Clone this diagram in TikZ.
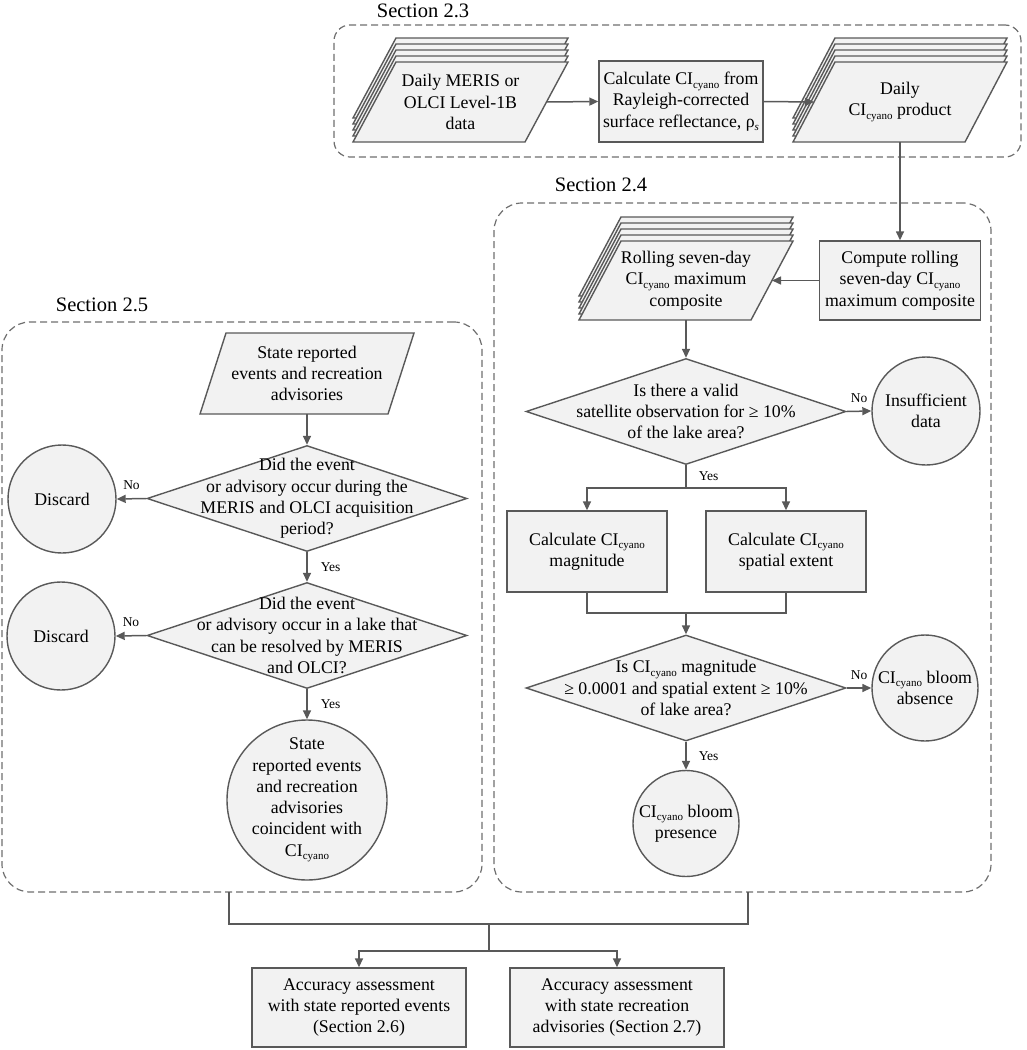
\documentclass[tikz,border=0pt]{standalone}
\usepackage{fontspec}
\setmainfont{Liberation Serif}
\usetikzlibrary{arrows.meta,shapes.geometric,calc,positioning}
\pgfdeclarelayer{bg}
\pgfsetlayers{bg,main}
\definecolor{ln}{HTML}{595959}
\definecolor{fl}{HTML}{F2F2F2}
\definecolor{dsh}{HTML}{6E6E6E}
\newcommand{\cya}{\raisebox{-3.5pt}{\fontsize{11}{11}\selectfont cyano}}
\newcommand{\rhos}{ρ\raisebox{-3.5pt}{\fontsize{11}{11}\selectfont\itshape s}}
\newcommand{\pgsheet}[3]{%
  \draw[draw=ln, fill=fl, line width=1.4pt, line join=miter]
    ($(#1.north west)+(#2/2,-#3)$) -- ($(#1.north east)+(#2/2,-#3)$) --
    ($(#1.south east)+(-#2/2,-#3)$) -- ($(#1.south west)+(-#2/2,-#3)$) -- cycle;}
\begin{document}
\begin{tikzpicture}[x=1pt,y=-1pt,
  txt/.style={font=\fontsize{17.8}{21.3}\selectfont, align=center, text=black},
  box/.style={txt, draw=ln, fill=fl, line width=1.4pt, inner sep=0pt},
  dia/.style={diamond, draw=ln, fill=fl, line width=1.4pt, inner sep=0pt, minimum width=320pt, minimum height=106pt},
  circ/.style={circle, draw=ln, fill=fl, line width=1.4pt, inner sep=0pt},
  para/.style={txt, inner sep=0pt, outer sep=0pt},
  ctext/.style={txt, inner sep=0pt},
  sec/.style={draw=dsh, line width=1.2pt, dash pattern=on 7pt off 4pt, rounded corners=#1, inner sep=0pt, outer sep=0pt},
  seclab/.style={font=\fontsize{20.5}{24}\selectfont, anchor=base},
  conn/.style={draw=ln, line width=1.5pt},
  arr/.style={conn, -{Triangle[length=9pt,width=8pt]}},
  lab/.style={font=\fontsize{13.5}{16}\selectfont, inner sep=0pt},
]
\useasboundingbox (0,0) rectangle (1026,1050);

% section frames
\node[sec=16pt, minimum width=687pt, minimum height=132pt] (s23) at (677.5,91) {};
\node[sec=28pt, minimum width=497pt, minimum height=689pt] (s24) at (742.5,547.5) {};
\node[sec=28pt, minimum width=480pt, minimum height=570pt] (s25) at (242,607) {};
\node[seclab] (l23) at (423,17) {Section 2.3};
\node[seclab] (l24) at (601,191) {Section 2.4};
\node[seclab] (l25) at (102,311) {Section 2.5};

% Section 2.3
\node[para, minimum width=172pt, minimum height=80pt] (st1) at (460.5,102) {Daily MERIS or\\OLCI Level-1B\\data};
\node[box, minimum width=164pt, minimum height=81pt] (calc) at (681,101.5) {Calculate CI\cya{} from\\Rayleigh-corrected\\surface reflectance, \rhos};
\node[para, minimum width=172pt, minimum height=80pt] (st2) at (900,102) {Daily\\CI\cya{} product};

% Section 2.4
\node[box, minimum width=161pt, minimum height=79pt] (comp) at (900,280.5) {Compute rolling\\seven-day CI\cya\\maximum composite};
\node[para, minimum width=172pt, minimum height=79pt] (st3) at (686,280.5) {Rolling seven-day\\CI\cya{} maximum\\composite};
\node[dia, label={[ctext]center:{Is there a valid\\satellite observation for ≥ 10\%\\of the lake area?}}] (d1) at (686,411.5) {};
\node[circ, minimum size=108pt, label={[ctext]center:{Insufficient\\data}}] (ins) at (926,411) {};
\node[box, minimum width=160pt, minimum height=81pt] (mag) at (587,551.5) {Calculate CI\cya\\magnitude};
\node[box, minimum width=160pt, minimum height=81pt] (ext) at (786,551.5) {Calculate CI\cya\\spatial extent};
\node[dia, label={[ctext]center:{Is CI\cya{} magnitude\\≥ 0.0001 and spatial extent ≥ 10\%\\of lake area?}}] (d2) at (686,688) {};
\node[circ, minimum size=106pt, label={[ctext]center:{CI\cya{} bloom\\absence}}] (abs) at (925,688) {};
\node[circ, minimum size=106pt, label={[ctext]center:{CI\cya{} bloom\\presence}}] (pres) at (686,823.5) {};

% Section 2.5
\node[para, minimum width=188pt, minimum height=81pt] (sr) at (307,373.5) {State reported\\events and recreation\\advisories};
\node[dia, label={[ctext]center:{Did the event\\or advisory occur during the\\MERIS and OLCI acquisition\\period?}}] (d3) at (307,498.5) {};
\node[circ, minimum size=108pt, label={[ctext]center:{Discard}}] (dis1) at (62,499) {};
\node[dia, label={[ctext]center:{Did the event\\or advisory occur in a lake that\\can be resolved by MERIS\\and OLCI?}}] (d4) at (307,635.5) {};
\node[circ, minimum size=108pt, label={[ctext]center:{Discard}}] (dis2) at (61,636) {};
\node[circ, minimum size=160pt, label={[ctext]center:{State\\reported events\\and recreation\\advisories\\coincident with\\CI\cya}}] (big) at (307,800) {};

% bottom
\node[box, minimum width=214pt, minimum height=79pt] (acc1) at (359,1007.5) {Accuracy assessment\\with state reported events\\(Section 2.6)};
\node[box, minimum width=214pt, minimum height=79pt] (acc2) at (617,1007.5) {Accuracy assessment\\with state recreation\\advisories (Section 2.7)};

% parallelogram sheets
\begin{pgfonlayer}{bg}
  \foreach \k in {4,3,2,1} {\pgsheet{st1}{43}{6*\k}}
  \pgsheet{st1}{43}{0}
  \foreach \k in {4,3,2,1} {\pgsheet{st2}{42}{6*\k}}
  \pgsheet{st2}{42}{0}
  \foreach \k in {4,3,2,1} {\pgsheet{st3}{42}{6*\k}}
  \pgsheet{st3}{42}{0}
  \pgsheet{sr}{26}{0}
\end{pgfonlayer}

% connectors top / right
\draw[arr] (st1.east) -- (calc.west);
\draw[arr] (calc.east) -- (st2.west);
\draw[arr] (st2.south) -- (comp.north);
\draw[arr] (comp.west) -- (st3.east);
\draw[arr] (st3.south) -- (d1.north);
\draw[arr] (d1.east) -- node[lab, above=8pt]{No} (ins.west);
\coordinate (b1) at (686,488);
\draw[conn] (d1.south) -- node[lab, right=12pt]{Yes} (b1);
\draw[arr] (b1) -| (mag.north);
\draw[arr] (b1) -| (ext.north);
\coordinate (b2) at (686,613);
\draw[conn] (mag.south) |- (b2) -| (ext.south);
\draw[arr] (b2) -- (d2.north);
\draw[arr] (d2.east) -- node[lab, above=8pt]{No} (abs.west);
\draw[arr] (d2.south) -- node[lab, right=12pt]{Yes} (pres.north);

% connectors left
\draw[arr] (sr.south) -- (d3.north);
\draw[arr] (d3.west) -- node[lab, above=8pt]{No} (dis1.east);
\draw[arr] (d3.south) -- node[lab, right=13pt]{Yes} (d4.north);
\draw[arr] (d4.west) -- node[lab, above=8pt]{No} (dis2.east);
\draw[arr] (d4.south) -- node[lab, right=13pt]{Yes} (big.north);

% connectors bottom
\coordinate (jl) at (229,924);
\coordinate (jr) at (748,924);
\coordinate (jm) at (489,924);
\coordinate (jb) at (489,951);
\draw[conn] (s25.south -| jl) -- (jl) -- (jr) -- (s24.south -| jr);
\draw[conn] (jm) -- (jb);
\draw[arr] (jb) -| (acc1.north);
\draw[arr] (jb) -| (acc2.north);
\end{tikzpicture}
\end{document}
